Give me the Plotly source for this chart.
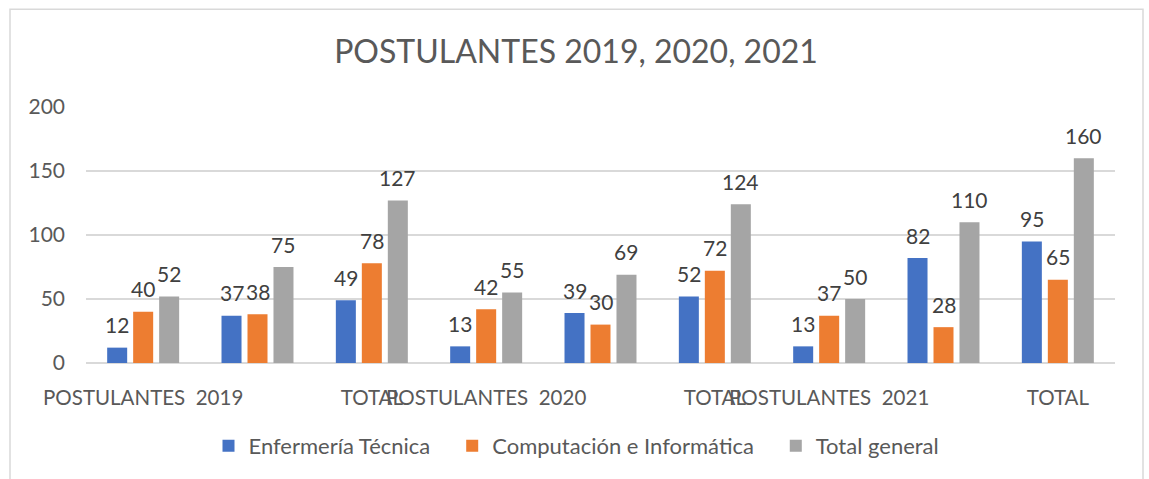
import plotly.graph_objects as go

# ---- data ----
tick_labels = ["POSTULANTES\u00a0 2019", "", "TOTAL",
               "POSTULANTES\u00a0 2020", "", "TOTAL",
               "POSTULANTES\u00a0 2021", "", "TOTAL"]
series_names = ["Enfermería Técnica", "Computación e Informática", "Total general"]
enfermeria = [12, 37, 49, 13, 39, 52, 13, 82, 95]
computacion = [40, 38, 78, 42, 30, 72, 37, 28, 65]
total_general = [52, 75, 127, 55, 69, 124, 50, 110, 160]

colors = ["#4472C4", "#ED7D31", "#A5A5A5"]
FONT = "Lato"
TXT = "#595959"
PAD = "\u00a0\u00a0\u00a0"

x = list(range(len(tick_labels)))
series = [enfermeria, computacion, total_general]
slot = 0.2273
bar_w = 0.175
centers = [-slot, 0.0, slot]

fig = go.Figure()
annotations = []
for name, vals, col, c in zip(series_names, series, colors, centers):
    fig.add_trace(go.Bar(
        x=x, y=vals, name=name + PAD, marker=dict(color=col, line=dict(width=0)),
        width=bar_w, offset=c - bar_w / 2, hovertemplate=name + ": %{y}<extra></extra>"))
    for xi, v in zip(x, vals):
        annotations.append(dict(
            x=xi + c, y=v, xref="x", yref="y", text=str(v), showarrow=False,
            yanchor="middle", yshift=23,
            font=dict(family=FONT, size=21, color="#404040")))

W, H = 1149, 479
L, R, T, B = 86, 1115, 107, 366
pw, ph = R - L, B - T

def px_x(px):
    return (px - L) / pw

def px_y(py):
    return (B - py) / ph

fig.update_layout(
    width=W, height=H,
    margin=dict(l=L, r=W - R, t=T, b=H - B, pad=0),
    paper_bgcolor="white", plot_bgcolor="white",
    barmode="overlay",
    font=dict(family=FONT, size=21, color=TXT),
    title=dict(text="POSTULANTES 2019, 2020, 2021", x=576 / W, xanchor="center",
               y=1 - 52 / H, yanchor="middle", yref="container",
               font=dict(family=FONT, size=32, color=TXT)),
    xaxis=dict(range=[-0.5, 8.5], tickmode="array", tickvals=x, ticktext=tick_labels,
               tickangle=0, showgrid=False, zeroline=False, showline=False,
               ticks="", ticklabelstandoff=20,
               tickfont=dict(family=FONT, size=20.5, color=TXT)),
    yaxis=dict(range=[0, 200], dtick=50, showgrid=True, gridcolor="#d9d9d9", gridwidth=1.5,
               zeroline=True, zerolinecolor="#d9d9d9", zerolinewidth=1.5,
               showline=False, ticks="", ticklabelstandoff=20,
               tickfont=dict(family=FONT, size=21, color=TXT)),
    legend=dict(orientation="h", x=px_x(585), xanchor="center", y=px_y(450), yanchor="middle",
                font=dict(family=FONT, size=22, color=TXT), bgcolor="rgba(0,0,0,0)",
                itemclick=False),
    annotations=annotations,
    shapes=[dict(type="rect", xref="paper", yref="paper",
                 x0=px_x(10), x1=px_x(1143), y0=px_y(490), y1=px_y(8),
                 line=dict(color="#d9d9d9", width=1.5), fillcolor="rgba(0,0,0,0)",
                 layer="below")],
    showlegend=True,
)

fig.write_html("out.html", config={"displayModeBar": False},
               post_script="document.body.style.margin='0px';document.body.style.overflow='hidden';")
